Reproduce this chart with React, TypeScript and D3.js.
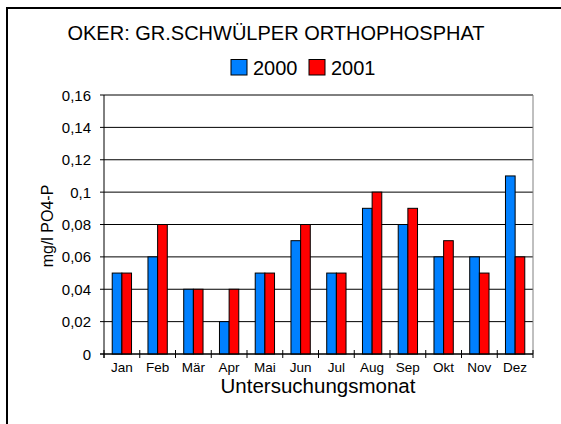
import React from "react";
import * as d3 from "d3";

const months = ["Jan", "Feb", "Mär", "Apr", "Mai", "Jun", "Jul", "Aug", "Sep", "Okt", "Nov", "Dez"];
const values2000 = [0.05, 0.06, 0.04, 0.02, 0.05, 0.07, 0.05, 0.09, 0.08, 0.06, 0.06, 0.11];
const values2001 = [0.05, 0.08, 0.04, 0.04, 0.05, 0.08, 0.05, 0.1, 0.09, 0.07, 0.05, 0.06];
const seriesNames = ["2000", "2001"];
const seriesColors = ["#0080FF", "#FF0000"];
const yTicks = [0, 0.02, 0.04, 0.06, 0.08, 0.1, 0.12, 0.14, 0.16];

const W = 561;
const H = 424;
const left = 104;
const right = 533;
const top = 95;
const bottom = 354;
const font = "Liberation Sans, Arial, sans-serif";

export default function App() {
  const x = d3.scaleBand<string>().domain(months).range([left, right]).paddingInner(0.46).paddingOuter(0.23);
  const x1 = d3.scaleBand<string>().domain(seriesNames).range([0, x.bandwidth()]);
  const y = d3.scaleLinear().domain([0, 0.16]).range([bottom, top]);
  const fmt = (v: number) => (v === 0 ? "0" : String(+v.toFixed(2)).replace(".", ","));
  const series = [values2000, values2001];
  const step = (right - left) / months.length;

  return (
    <svg width={W} height={H} style={{ position: "absolute", left: 0, top: 0, background: "#fff" }} fontFamily={font}>
      <rect x={0} y={0} width={W} height={H} fill="#fff" />
      <rect x={7} y={8} width={700} height={700} fill="none" stroke="#000" strokeWidth={2} />
      <text x={276} y={39.5} textAnchor="middle" fontSize={20} fill="#000">OKER: GR.SCHWÜLPER ORTHOPHOSPHAT</text>
      {seriesNames.map((s, i) => {
        const lx = 231 + i * 78;
        return (
          <g key={s}>
            <rect x={lx} y={59.5} width={16} height={15.5} fill={seriesColors[i]} stroke="#000" strokeWidth={1} />
            <text x={lx + 22} y={75} fontSize={20} fill="#000">{s}</text>
          </g>
        );
      })}
      {yTicks.map((t) => (
        <g key={t}>
          <line x1={left - 4} x2={right} y1={y(t)} y2={y(t)} stroke="#000" strokeWidth={1} />
          <text x={91} y={y(t) + 5.5} textAnchor="end" fontSize={15} fill="#000">{fmt(t)}</text>
        </g>
      ))}
      <line x1={right} x2={right} y1={top} y2={bottom} stroke="#808080" strokeWidth={1} />
      {months.map((m, i) =>
        series.map((vals, si) => (
          <rect
            key={m + si}
            x={(x(m) ?? 0) + (x1(seriesNames[si]) ?? 0)}
            y={y(vals[i])}
            width={x1.bandwidth()}
            height={bottom - y(vals[i])}
            fill={seriesColors[si]}
            stroke="#000"
            strokeWidth={1}
          />
        ))
      )}
      <line x1={left} x2={left} y1={top} y2={bottom + 4} stroke="#000" strokeWidth={1} />
      <line x1={left - 4} x2={right} y1={bottom} y2={bottom} stroke="#000" strokeWidth={1} />
      {d3.range(months.length + 1).map((i) => (
        <line key={i} x1={left + i * step} x2={left + i * step} y1={bottom - 4} y2={bottom + 4} stroke="#000" strokeWidth={1} />
      ))}
      {months.map((m) => (
        <text key={m} x={(x(m) ?? 0) + x.bandwidth() / 2} y={371.5} textAnchor="middle" fontSize={13.5} fill="#000">{m}</text>
      ))}
      <text x={318} y={393} textAnchor="middle" fontSize={20.5} fill="#000">Untersuchungsmonat</text>
      <text transform={`translate(53, 226) rotate(-90)`} textAnchor="middle" fontSize={16} fill="#000">mg/l PO4-P</text>
    </svg>
  );
}
